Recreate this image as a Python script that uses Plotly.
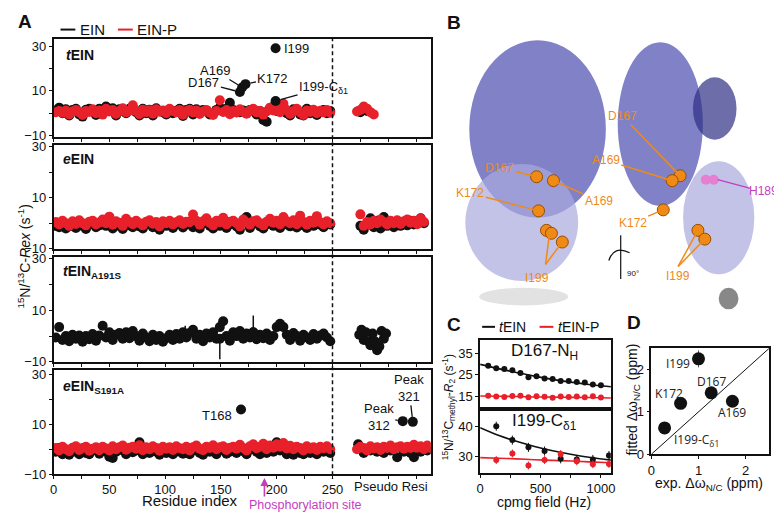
import plotly.graph_objects as go

W, H = 782, 513
FONT = "Arial, Liberation Sans, sans-serif"
RED = "#e8202a"
BLK = "#111111"
ORANGE = "#ef8a17"
MAGENTA = "#c43dbf"


def fx(px):
    return px / W


def fy(py):
    return 1 - py / H


# ---------------- panel A: Rex per residue ----------------
res = list(range(2, 249, 3))

tein = [1.2, 2.5, 0.0, 1.8, -1.0, 1.5, 2.0, -0.5, -1.5, 1.6,
        2.0, 1.0, -0.8, 2.0, 0.5, 3.0, 1.5, 2.2, -1.0, 1.8,
        1.0, 0.0, 2.0, 2.5, 0.5, -1.0, 2.0, 0.0, 1.6, -1.0,
        2.2, 1.0, 0.5, -0.5, 1.5, 0.0, 1.0, 2.0, -1.2, 1.5,
        2.0, -0.5, 1.8, 0.0, 1.5, 1.0, -0.5, 0.0, 1.5, 2.5,
        1.0, 2.0, 4.7, 1.5, 0.5, 0.5, 1.2, 0.0, 1.5, 1.0,
        -0.5, 1.0, -3.0, -3.8, 2.0, 3.0, 1.0, 2.5, 1.0, 0.0,
        -1.0, 1.8, 1.5, -0.5, -1.0, 2.0, 0.0, 1.0, -0.8, 0.5,
        1.5, 0.0, 1.0]
tein_p = [0.5, 1.0, 0.2, 1.2, -0.5, 0.8, 1.5, 0.3, -0.8, 1.0,
          0.6, 1.8, 0.0, 1.2, -0.6, 2.0, 0.8, 1.4, -0.3, 1.0,
          2.2, 0.4, 1.1, 3.6, 0.9, -0.4, 1.6, 0.5, 1.3, -0.2,
          1.8, 0.7, 1.2, 0.0, 2.0, 1.0, 0.4, 1.5, -0.7, 0.9,
          1.6, 0.3, 1.2, -0.3, 0.8, 1.5, 0.2, -0.8, 1.0, 5.8,
          0.6, 1.4, -0.4, 1.0, 0.3, 1.8, 0.6, -0.2, 1.2, 2.0,
          0.4, 1.0, -0.6, 0.8, 2.5, 1.2, 3.0, 0.5, 4.2, 1.4,
          -0.3, 1.0, 2.0, 0.4, -0.8, 1.2, 0.6, 1.6, 0.0, 1.1,
          0.4, 1.5, 0.2]
tein_hit_res = [167, 169, 172, 199, 199]
tein_hit_val = [9.5, 11.5, 13.0, 29.0, 5.5]
tein_ps_res = [275, 281]
tein_ps = [0.5, 1.0]
tein_p_ps_res = [272, 275, 278, 281, 284, 287]
tein_p_ps = [0.8, 1.5, 3.0, 2.0, 0.5, -0.5]

eein = [-1.0, -1.5, 0.0, -2.0, -1.2, 0.0, -1.8, 0.5, -1.0, -2.2,
        -0.5, 0.2, -1.5, -0.8, 0.5, -1.0, 1.0, -2.0, -0.2, -1.0,
        -2.2, 0.5, -0.8, -1.5, 0.0, -1.2, -2.0, -0.5, 0.5, -1.5,
        -0.8, -2.5, 0.0, -1.0, 0.2, -1.8, -0.5, 0.4, -1.6, -0.5,
        0.5, -1.5, 0.0, -2.0, 0.0, 0.8, -1.0, -2.0, 0.2, -1.0,
        0.8, -1.8, -0.5, 0.2, -1.2, -2.5, 0.5, 2.5, -1.8, -0.2,
        0.2, -1.2, -2.0, -0.5, 0.5, -1.0, 0.0, -1.8, 1.0, -0.5,
        -1.2, 0.2, -1.6, 1.5, -0.8, -1.8, 0.0, -1.0, 1.2, -0.6,
        -1.5, -0.2, -0.5]
eein_p = [0.5, -0.5, 1.0, 0.0, -1.0, 0.8, -0.3, 1.2, 0.0, -0.8,
          0.6, 1.0, -0.5, 0.3, 1.5, 0.0, 2.6, -0.6, 0.8, 0.2,
          -1.0, 1.8, 0.5, -0.4, 1.0, 0.0, -0.8, 0.6, 1.2, -0.2,
          0.5, -1.2, 0.8, 0.0, 1.0, -0.5, 0.4, 1.2, -0.3, 0.6,
          0.4, 3.4, 1.0, -0.6, 0.8, 2.0, 0.2, -0.8, 1.0, 0.4,
          2.2, -0.5, 0.6, 1.0, 0.0, -1.2, 1.5, 0.3, -0.6, 0.8,
          1.2, 0.0, -0.8, 0.6, 1.8, 0.2, 1.0, -0.5, 2.5, 0.8,
          0.0, 1.2, -0.4, 3.0, 0.5, -0.6, 1.0, 0.2, 2.8, 0.4,
          -0.5, 0.8, 0.0]
eein_ps_res = list(range(275, 333, 3))
eein_ps = [-1.0, -2.5, -0.5, 2.0, -1.5, 1.0, -2.0, 2.5, -1.0, 0.0,
           -1.5, 0.5, -1.0, 0.0, -0.8, 1.0, -0.5, 0.5, 2.0, 0.0]
eein_p_ps = [3.5, -1.0, 0.5, -0.5, 1.0, 0.0, 1.5, 0.5, -0.5, 1.0,
             0.0, 1.2, -0.3, 0.8, 1.5, 0.2, 1.0, -0.4, 1.8, 0.5]

a191s = [-0.5, 3.5, -1.5, 0.0, -2.0, 0.5, -1.0, 0.2, -2.2, 0.0,
         -1.2, 0.8, -1.8, 0.2, 4.0, -0.5, 1.5, -1.5, 0.5, 1.2,
         -1.0, 1.5, -0.8, 2.0, 0.0, -1.8, 1.0, -0.5, -2.0, 0.5,
         -1.5, 0.0, -2.2, -0.8, 0.5, -1.5, 0.8, -1.0, 1.5, -0.5,
         1.2, 2.5, -1.0, 0.5, -2.0, 1.0, -0.5, 1.5, -1.0, 3.5,
         5.8, 0.0, -1.8, 1.5, 0.0, 2.0, -1.0, 1.0, -0.5, 1.5,
         -1.2, 0.5, -0.8, 1.0, -1.5, 0.0, 3.5, 4.8, 3.5, 0.5,
         -1.5, 1.2, 0.0, -1.8, 0.5, -0.5, -1.5, 0.8, -1.0, 0.2,
         1.0, -0.5, -2.0]
a191s_err_res = [118, 149, 179]
a191s_err_val = [1.0, -1.0, 1.5]
a191s_err_up = [3.0, 0.0, 6.5]
a191s_err_dn = [0.0, 8.0, 0.0]
a191s_ps_res = [274, 276, 278, 280, 282, 284, 286, 288, 290, 292, 294, 296, 298]
a191s_ps = [0.5, 2.5, -1.5, 1.5, -2.0, -3.5, 1.0, -2.0, -5.5, -4.0, 2.0, -1.0, 1.0]

s191a = [-1.0, 0.5, -2.0, -0.5, -2.2, 0.0, -1.0, -2.0, 0.0, -1.5,
         -2.0, -0.5, 0.0, -1.8, -0.2, -1.0, -3.0, -3.5, -1.0, 0.5,
         -0.5, -2.0, 0.0, -1.2, -0.5, 2.8, -2.0, -0.5, -1.5, 0.2,
         -1.0, -2.2, 0.0, -1.5, -0.5, -2.0, 0.2, -1.0, -1.8, 0.0,
         -2.0, -0.5, 0.5, -1.5, -2.2, 0.0, -1.0, 0.5, -2.0, -0.5,
         0.2, -1.8, -1.0, 0.0, -1.5, 0.5, -0.8, -2.0, 0.0, 0.8,
         -1.0, -2.0, 0.5, -1.5, 0.0, -1.0, 2.8, -0.5, 1.0, -2.0,
         -0.5, -2.2, -0.8, -1.5, -2.0, 0.0, -1.5, -0.5, -2.0, -0.2,
         -1.0, 0.0, -1.5]
s191a_p = [0.5, -0.5, 1.0, 0.0, -0.8, 0.6, 1.2, -0.3, 0.5, 1.0,
           -0.6, 0.2, 0.8, -0.4, 1.0, 0.3, -0.5, 1.2, 0.0, 0.8,
           1.5, -0.2, 0.6, 1.0, 0.2, 1.6, -0.4, 0.8, 0.0, 1.2,
           0.5, -0.6, 1.0, 0.2, 0.8, -0.3, 1.2, 0.4, 0.0, 1.0,
           -0.5, 0.8, 1.5, 0.2, -0.4, 1.0, 0.5, 1.6, 0.0, 0.8,
           1.2, -0.3, 0.6, 1.0, 0.2, 1.8, 0.5, -0.5, 1.2, 2.0,
           0.4, 1.0, 2.2, 0.0, 1.5, 0.6, 2.0, 1.0, 2.5, 0.3,
           1.4, 0.0, 1.0, 0.5, -0.5, 1.2, 0.2, 0.8, -0.3, 1.0,
           0.4, 1.2, 0.0]
s191a_hit_res = [168, 313, 322]
s191a_hit_val = [16.0, 11.3, 11.0]
s191a_ps_res = [273, 278, 284, 290, 296, 302, 308, 314, 320, 323, 329, 335]
s191a_ps = [2.0, -1.5, -0.5, -1.0, -1.5, -0.5, -3.2, -1.0, -1.5, -3.2, -1.0, -0.5]
s191a_p_ps_res = list(range(272, 339, 3))
s191a_p_ps = [0.0, 1.0, 0.5, -0.5, 1.2, 0.3, 0.8, -0.3, 1.0, 0.5, 1.5, 0.0,
              0.8, 1.2, 0.2, 1.0, 0.5, 1.8, 0.6, 1.2, 0.0, 1.5, 0.5]

res_ticks = [0, 50, 100, 150, 200, 250]
res_minor = [25, 75, 125, 175, 225, 275, 300, 325]
phospho_site = 189

# ---------------- panel C: CPMG dispersion ----------------
cpmg_nh = [66.7, 133.3, 200, 266.7, 333.3, 400, 466.7, 533.3, 600, 666.7,
           733.3, 800, 866.7, 933.3, 1000]
d167_tein = [29.2, 28.0, 27.6, 27.0, 25.8, 23.8, 24.2, 23.2, 23.0, 22.0,
             22.0, 21.6, 21.3, 20.4, 20.0]
d167_tein_p = [15.2, 14.8, 14.6, 15.0, 15.2, 14.5, 14.9, 14.7, 14.2, 14.8,
               14.6, 14.8, 14.4, 14.9, 14.3]
cpmg_me = [133.3, 266.7, 400, 533.3, 666.7, 800, 933.3, 1066.7]
i199_tein = [40.0, 35.4, 33.0, 31.8, 29.2, 29.0, 29.0, 30.3]
i199_tein_p = [28.8, 31.0, 27.0, 28.8, 30.8, 28.4, 27.4, 27.5]
fit_hz = [0, 150, 300, 450, 600, 750, 900, 1100]
d167_fit = [29.8, 27.8, 26.0, 24.3, 22.8, 21.5, 20.4, 19.3]
d167_fit_p = [15.0, 14.9, 14.8, 14.6, 14.5, 14.4, 14.3, 14.1]
i199_fit = [39.5, 37.0, 35.0, 33.3, 31.9, 30.7, 29.7, 28.7]
i199_fit_p = [29.6, 29.4, 29.2, 28.9, 28.7, 28.5, 28.2, 27.9]

# ---------------- panel D: fitted vs experimental shifts ----------------
d_names = ["I199", "D167", "K172", "A169", "I199-C<sub>δ1</sub>"]
d_exp = [1.0, 1.27, 0.62, 1.72, 0.28]
d_fit = [2.25, 1.45, 1.2, 1.25, 0.62]
d_err = [0.2, 0.1, 0.08, 0.08, 0.05]
diag = [0, 2.5]

# ---------------- panel B: structure sketch (residue markers) ----------------
sphere_x = [530, 547, 532, 540, 545, 556, 675, 667, 658, 693, 700]
sphere_y = [168, 172, 203, 223, 226, 235, 167, 172, 202, 223, 232]

fig = go.Figure()


def pts(x, y, color, ax, size=10):
    fig.add_trace(go.Scatter(x=x, y=y, mode="markers", xaxis="x" + ax, yaxis="y" + ax,
                             marker=dict(size=size, color=color, line=dict(width=0)),
                             hoverinfo="skip"))


# panel A traces (black first, red on top)
pts(res, tein, BLK, "")
pts(tein_ps_res, tein_ps, BLK, "")
pts(res, tein_p, RED, "")
pts(tein_p_ps_res, tein_p_ps, RED, "")
pts(tein_hit_res, tein_hit_val, BLK, "")

pts(res, eein, BLK, "2")
pts(eein_ps_res, eein_ps, BLK, "2")
pts(res, eein_p, RED, "2")
pts(eein_ps_res, eein_p_ps, RED, "2")

pts(res, a191s, BLK, "3")
pts(a191s_ps_res, a191s_ps, BLK, "3")
fig.add_trace(go.Scatter(x=a191s_err_res, y=a191s_err_val, mode="markers", xaxis="x3", yaxis="y3",
                         marker=dict(size=10, color=BLK),
                         error_y=dict(type="data", symmetric=False, array=a191s_err_up,
                                      arrayminus=a191s_err_dn, color=BLK, thickness=1.5, width=0)))

pts(res, s191a, BLK, "4")
pts(s191a_ps_res, s191a_ps, BLK, "4")
pts(res, s191a_p, RED, "4")
pts(s191a_p_ps_res, s191a_p_ps, RED, "4")
pts(s191a_hit_res, s191a_hit_val, BLK, "4")


# panel C
def disp(x, y, color, ax, err):
    fig.add_trace(go.Scatter(x=x, y=y, mode="markers", xaxis="x" + ax, yaxis="y" + ax,
                             marker=dict(size=6, color=color),
                             error_y=dict(type="constant", value=err, color=color, thickness=1, width=0)))


def fitline(y, color, ax):
    fig.add_trace(go.Scatter(x=fit_hz, y=y, mode="lines", xaxis="x" + ax, yaxis="y" + ax,
                             line=dict(color=color, width=1.6, shape="spline"), hoverinfo="skip"))


fitline(d167_fit, BLK, "5")
fitline(d167_fit_p, RED, "5")
disp(cpmg_nh, d167_tein, BLK, "5", 0.8)
disp(cpmg_nh, d167_tein_p, RED, "5", 0.6)
fitline(i199_fit, BLK, "6")
fitline(i199_fit_p, RED, "6")
disp(cpmg_me, i199_tein, BLK, "6", 1.5)
disp(cpmg_me, i199_tein_p, RED, "6", 1.3)

# panel D
fig.add_trace(go.Scatter(x=diag, y=diag, mode="lines", xaxis="x7", yaxis="y7",
                         line=dict(color=BLK, width=1)))
fig.add_trace(go.Scatter(x=d_exp, y=d_fit, mode="markers", xaxis="x7", yaxis="y7",
                         marker=dict(size=13, color=BLK),
                         error_y=dict(type="data", array=d_err, color="#555", thickness=1, width=0)))

# panel B residue spheres
fig.add_trace(go.Scatter(x=sphere_x, y=sphere_y, mode="markers", xaxis="x8", yaxis="y8",
                         marker=dict(size=12, color=ORANGE, line=dict(color="#9a4d00", width=1))))
fig.add_trace(go.Scatter(x=[701, 709], y=[171, 171], mode="markers", xaxis="x8", yaxis="y8",
                         marker=dict(size=10, color="#e67fd0")))

axis_style = dict(showline=True, linecolor=BLK, linewidth=1.5, mirror=True, ticks="outside",
                  ticklen=3, tickwidth=1.2, tickcolor=BLK, showgrid=False, zeroline=False,
                  tickfont=dict(family=FONT, size=13, color=BLK))

xA = [42, 423]
yA = [(27, 127, [-10.5, 33]), (135, 242, [-10, 30.8]), (250, 358, [-10, 30.8]), (366, 473, [-10, 32])]
layout = dict(width=W, height=H, margin=dict(l=0, r=0, t=0, b=0), showlegend=False,
              plot_bgcolor="white", paper_bgcolor="white", font=dict(family=FONT, color=BLK))
for i, (top, bot, rng) in enumerate(yA):
    n = "" if i == 0 else str(i + 1)
    layout["xaxis" + n] = dict(axis_style, domain=[fx(xA[0]), fx(xA[1])], range=[0, 338],
                               anchor="y" + n, tickvals=res_ticks, showticklabels=(i == 3),
                               minor=dict(tickvals=res_minor, ticklen=3, tickcolor=BLK, ticks="outside"))
    layout["yaxis" + n] = dict(axis_style, domain=[fy(bot), fy(top)], range=rng, anchor="x" + n,
                               tickvals=[-10, 10, 30],
                               minor=dict(tickvals=[0, 20], ticklen=3, tickcolor=BLK, ticks="outside"))

cx = [fx(473), fx(605)]
layout["xaxis5"] = dict(axis_style, domain=cx, range=[0, 1082], anchor="y5", showticklabels=False,
                        ticks="", tickvals=[])
layout["yaxis5"] = dict(axis_style, domain=[fy(406), fy(335)], range=[9.1, 41.4], anchor="x5",
                        tickvals=[15, 25, 35])
layout["xaxis6"] = dict(axis_style, domain=cx, range=[0, 1082], anchor="y6", tickvals=[0, 500, 1000],
                        minor=dict(tickvals=[250, 750], ticklen=3, tickcolor=BLK, ticks="outside"))
layout["yaxis6"] = dict(axis_style, domain=[fy(472), fy(406)], range=[24.5, 45.8], anchor="x6",
                        tickvals=[30, 40])
layout["xaxis7"] = dict(axis_style, domain=[fx(646), fx(765)], range=[0, 2.5], anchor="y7",
                        tickvals=[0, 1, 2])
layout["yaxis7"] = dict(axis_style, domain=[fy(452.7), fy(344)], range=[0, 2.5], anchor="x7",
                        tickvals=[0, 1, 2])
layout["xaxis8"] = dict(domain=[fx(443), 1], range=[443, 782], visible=False, anchor="y8")
layout["yaxis8"] = dict(domain=[fy(318), 1], range=[318, 0], visible=False, anchor="x8")

fig.update_layout(**layout)


def txt(text, x, y, size=13, color=BLK, xanchor="center", angle=0, family=FONT):
    fig.add_annotation(text=text, x=fx(x), y=fy(y), xref="paper", yref="paper", showarrow=False,
                       xanchor=xanchor, yanchor="middle", textangle=angle,
                       font=dict(size=size, color=color, family=family))


def lab(text, xr, yr, x, y, ax, ay, size=13, family=FONT, color=BLK, line=True):
    fig.add_annotation(text=text, x=x, y=y, xref=xr, yref=yr, ax=ax, ay=ay, showarrow=line,
                       arrowhead=0, arrowwidth=1.3, arrowcolor=color, standoff=5,
                       font=dict(size=size, color=color, family=family))


# panel letters
txt("<b>A</b>", 4, 9, 19, xanchor="left")
txt("<b>B</b>", 437, 10, 19, xanchor="left")
txt("<b>C</b>", 437, 320, 19, xanchor="left")
txt("<b>D</b>", 619, 318, 19, xanchor="left")

# panel A texts
txt("<b><i>t</i>EIN</b>", 53, 43, 14, xanchor="left")
txt("<b><i>e</i>EIN</b>", 50, 150, 14, xanchor="left")
txt("<b><i>t</i>EIN<sub>A191S</sub></b>", 50, 266, 14, xanchor="left")
txt("<b><i>e</i>EIN<sub>S191A</sub></b>", 50, 384, 14, xanchor="left")
txt("<sup>15</sup>N/<sup>13</sup>C-<i>Rex</i> (s<sup>-1</sup>)", 12, 250, 14, angle=-90)
txt("EIN", 67, 17, 15, xanchor="left")
txt("EIN-P", 124, 17, 15, xanchor="left")
txt("Pseudo Resi", 383, 486, 13)
txt("Residue index", 180, 500, 15)
txt("Phosphorylation site", 297, 505, 12.5, MAGENTA)

lab("A169", "x", "y", 169, 11.5, -27, -17)
lab("D167", "x", "y", 167, 9.5, -36, -9)
lab("K172", "x", "y", 172, 13.0, 27, -6)
lab("I199-C<sub>δ1</sub>", "x", "y", 199, 5.5, 48, -13)
fig.add_annotation(text="I199", x=199, y=29, xref="x", yref="y", showarrow=False, xanchor="left",
                   xshift=6, font=dict(size=13, family=FONT, color=BLK))
fig.add_annotation(text="T168", x=168, y=16, xref="x4", yref="y4", showarrow=False, xanchor="right",
                   xshift=-7, yshift=-6, font=dict(size=13, family=FONT, color=BLK))
lab("Peak<br>312", "x4", "y4", 313, 11.3, -24, -4)
lab("Peak<br>321", "x4", "y4", 322, 11.0, -4, -34)
fig.add_annotation(text="", x=phospho_site, y=fy(477), xref="x4", yref="paper", ax=0, ay=20,
                   showarrow=True, arrowhead=2, arrowsize=1, arrowwidth=1.6, arrowcolor=MAGENTA)

# panel C texts
txt("D167-N<sub>H</sub>", 538, 348, 17)
txt("I199-C<sub>δ1</sub>", 538, 420, 17)
txt("<sup>15</sup>N/<sup>13</sup>C<sub>methyl</sub>-<i>R</i><sub>2</sub> (s<sup>-1</sup>)", 441, 404, 12, angle=-90)
txt("cpmg field (Hz)", 537, 502, 14)
txt("<i>t</i>EIN", 490, 322, 14, xanchor="left")
txt("<i>t</i>EIN-P", 550, 322, 14, xanchor="left")

# panel D texts (pixel offsets of each label from its point)
d_label_dx = [-21, 0, -12, 0, 32]
d_label_dy = [-5, 11, 10, -11, -12]
for name, x, y, dx, dy in zip(d_names, d_exp, d_fit, d_label_dx, d_label_dy):
    fig.add_annotation(text=name, x=x, y=y, xref="x7", yref="y7", showarrow=False,
                       xshift=dx, yshift=dy,
                       font=dict(size=12, family="Open Sans, sans-serif", color="#222"))
txt("fitted Δω<sub>N/C</sub> (ppm)", 627, 397, 14, angle=-90)
txt("exp. Δω<sub>N/C</sub> (ppm)", 704, 483, 14)

# panel B labels
for t, xs, ys, tx, ty in [("D167", 530, 168, 493, 159), ("A169", 547, 172, 593, 193),
                          ("K172", 532, 203, 463, 185), ("D167", 675, 167, 617, 106),
                          ("A169", 667, 172, 600, 151), ("K172", 658, 202, 627, 215)]:
    fig.add_annotation(text=t, x=xs, y=ys, xref="x8", yref="y8", ax=tx, ay=ty, axref="x8", ayref="y8",
                       showarrow=True, arrowhead=0, arrowwidth=1.5, arrowcolor=ORANGE, standoff=4,
                       font=dict(size=12, color=ORANGE, family=FONT))
txt("I199", 530, 272, 12, ORANGE)
txt("I199", 673, 270, 12, ORANGE)
txt("H189", 776, 183, 12, MAGENTA, xanchor="right")
txt("90°", 627, 267, 8)

shapes = []


def pline(x0, y0, x1, y1, color, width=1.5, dash="solid", xref="paper", yref="paper", layer="above"):
    shapes.append(dict(type="line", x0=x0, y0=y0, x1=x1, y1=y1, xref=xref, yref=yref, layer=layer,
                       line=dict(color=color, width=width, dash=dash)))


# legend swatches
pline(fx(49), fy(17), fx(64), fy(17), BLK, 2)
pline(fx(107), fy(17), fx(122), fy(17), RED, 2)
pline(fx(475), fy(322), fx(488), fy(322), BLK, 2)
pline(fx(533), fy(322), fx(547), fy(322), RED, 2)
# dashed boundary between residues and pseudo residues
pline(250, fy(25), 250, fy(478), BLK, 1.5, "4px,3px", xref="x4")

# structure sketch blobs
for x0, y0, x1, y1, col in [(462, 28, 600, 210, "#4b4bb0"), (458, 155, 572, 275, "#a9a9de"),
                            (472, 282, 562, 300, "#d6d6d6"), (612, 30, 698, 198, "#4b4bb0"),
                            (688, 66, 732, 130, "#2f2f85"), (678, 152, 750, 268, "#a9a9de"),
                            (714, 282, 734, 304, "#555555")]:
    shapes.append(dict(type="circle", x0=x0, y0=y0, x1=x1, y1=y1, xref="x8", yref="y8",
                       fillcolor=col, opacity=0.7, line=dict(width=0), layer="below"))
pline(539, 258, 543, 227, ORANGE, 1.5, xref="x8", yref="y8")
pline(539, 258, 556, 235, ORANGE, 1.5, xref="x8", yref="y8")
pline(673, 260, 693, 223, ORANGE, 1.5, xref="x8", yref="y8")
pline(673, 260, 700, 232, ORANGE, 1.5, xref="x8", yref="y8")
pline(713, 171, 746, 180, MAGENTA, 1.2, xref="x8", yref="y8")
pline(615, 228, 615, 273, BLK, 1.2, xref="x8", yref="y8")
shapes.append(dict(type="path", path="M 603,254 Q 608,238 624,246", xref="x8", yref="y8",
                   line=dict(color=BLK, width=1.3)))
fig.update_layout(shapes=shapes)

fig.write_html("out.html")
